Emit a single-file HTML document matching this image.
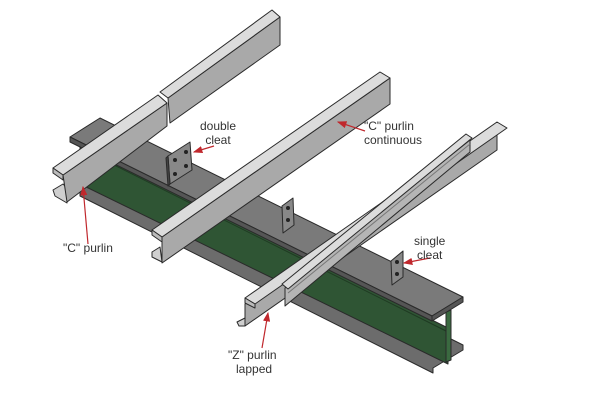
<!DOCTYPE html>
<html><head><style>
html,body{margin:0;padding:0;background:#fff;}
svg{display:block;}
text{font-family:"Liberation Sans",sans-serif;font-size:12px;fill:#333;}
</style></head><body>
<svg width="605" height="409" viewBox="0 0 605 409" xmlns="http://www.w3.org/2000/svg">
<defs><marker id="ar" markerWidth="8" markerHeight="6" refX="7" refY="3" orient="auto"><path d="M0,0 L8,3 L0,6z" fill="#c0282d"/></marker></defs>
<g stroke="#2a2a2a" stroke-width="1" stroke-linejoin="round">
<!-- beam bottom flange -->
<polygon points="80,184 110,168 463,345 463,350 433,368 433,373 80,196" fill="#6c6c6c"/>
<!-- web green -->
<polygon points="80,144 448,328 448,364 80,184" fill="#2f5534"/>
<line x1="84" y1="150" x2="448" y2="332" stroke="#1e3a22"/>
<!-- right end web -->
<polygon points="446,312 451,310 451,360 446,362" fill="#3a6a40"/>
<!-- top flange -->
<polygon points="100,118 463,297 432,316 70,137" fill="#7a7a7a"/>
<polygon points="70,137 432,316 432,321 70,142" fill="#555"/>
<polygon points="463,297 463,302 432,321 432,316" fill="#555"/>
<!-- cleats -->
<polygon points="168,156 190,142 192,170 170,184" fill="#888"/>
<polygon points="166,158 168,156 170,184 168,186" fill="#444"/>
<polygon points="282,206 293,198 294,225 283,233" fill="#888"/>
<polygon points="391,261 403,251 403,277 392,285" fill="#888"/>
</g>
<g fill="#222">
<circle cx="175" cy="160" r="2"/><circle cx="186" cy="152" r="2"/><circle cx="175" cy="174" r="2"/><circle cx="186" cy="166" r="2"/>
<circle cx="288" cy="208" r="2"/><circle cx="288" cy="220" r="2"/>
<circle cx="397" cy="262" r="2"/><circle cx="397" cy="274" r="2"/>
</g>
<g stroke="#2a2a2a" stroke-width="1" stroke-linejoin="round">
<!-- upper C purlin segment -->
<polygon points="168,98 280,17 280,45 170,123" fill="#a9a9a9"/>
<polygon points="160,92 272,10 280,17 168,98" fill="#dcdcdc"/>
<!-- left C purlin -->
<polygon points="53,190 63,184 67,188 67,203 55,196" fill="#cfcfcf"/>
<polygon points="63,175 167,103 167,126 67,202" fill="#a9a9a9"/>
<polygon points="53,168 158,95 167,103 63,175" fill="#dcdcdc"/>
<polygon points="53,168 63,175 63,180 53,173" fill="#bbb"/>
<!-- middle continuous C purlin -->
<polygon points="152,252 160,247 162,262 152,257" fill="#cfcfcf"/>
<polygon points="162,237 390,78 390,104 162,263" fill="#a9a9a9"/>
<polygon points="152,230 380,72 390,78 162,237" fill="#dcdcdc"/>
<polygon points="152,230 162,237 162,242 152,235" fill="#bbb"/>
<!-- Z purlin front (long) -->
<polygon points="237,322 245,318 245,326 239,326" fill="#cfcfcf"/>
<polygon points="245,304 497,128 497,150 245,326" fill="#a9a9a9"/>
<polygon points="245,298 497,122 507,128 255,304" fill="#dcdcdc"/>
<polygon points="245,298 255,304 255,308 245,303" fill="#bbb"/>
<!-- Z purlin second (lapped) -->
<polygon points="285,288 470,140 470,152 285,306" fill="#b5b5b5"/>
<polygon points="282,284 466,134 472,138 288,289" fill="#dcdcdc"/>
<line x1="288" y1="293" x2="470" y2="144" stroke="#777"/>
</g>
<!-- labels -->
<g stroke="#c0282d" stroke-width="1.2" fill="none">
<line x1="214" y1="146" x2="194" y2="152" marker-end="url(#ar)"/>
<line x1="365" y1="131" x2="338" y2="122" marker-end="url(#ar)"/>
<line x1="88" y1="244" x2="83" y2="187" marker-end="url(#ar)"/>
<line x1="262" y1="348" x2="268" y2="313" marker-end="url(#ar)"/>
<line x1="430" y1="258" x2="404" y2="263" marker-end="url(#ar)"/>
</g>
<text x="218" y="130" text-anchor="middle">double</text>
<text x="218" y="144" text-anchor="middle">cleat</text>
<text x="364" y="130">"C" purlin</text>
<text x="364" y="144">continuous</text>
<text x="63" y="252">"C" purlin</text>
<text x="228" y="359">"Z" purlin</text>
<text x="236" y="373">lapped</text>
<text x="414" y="245">single</text>
<text x="417" y="259">cleat</text>
</svg>
</body></html>
